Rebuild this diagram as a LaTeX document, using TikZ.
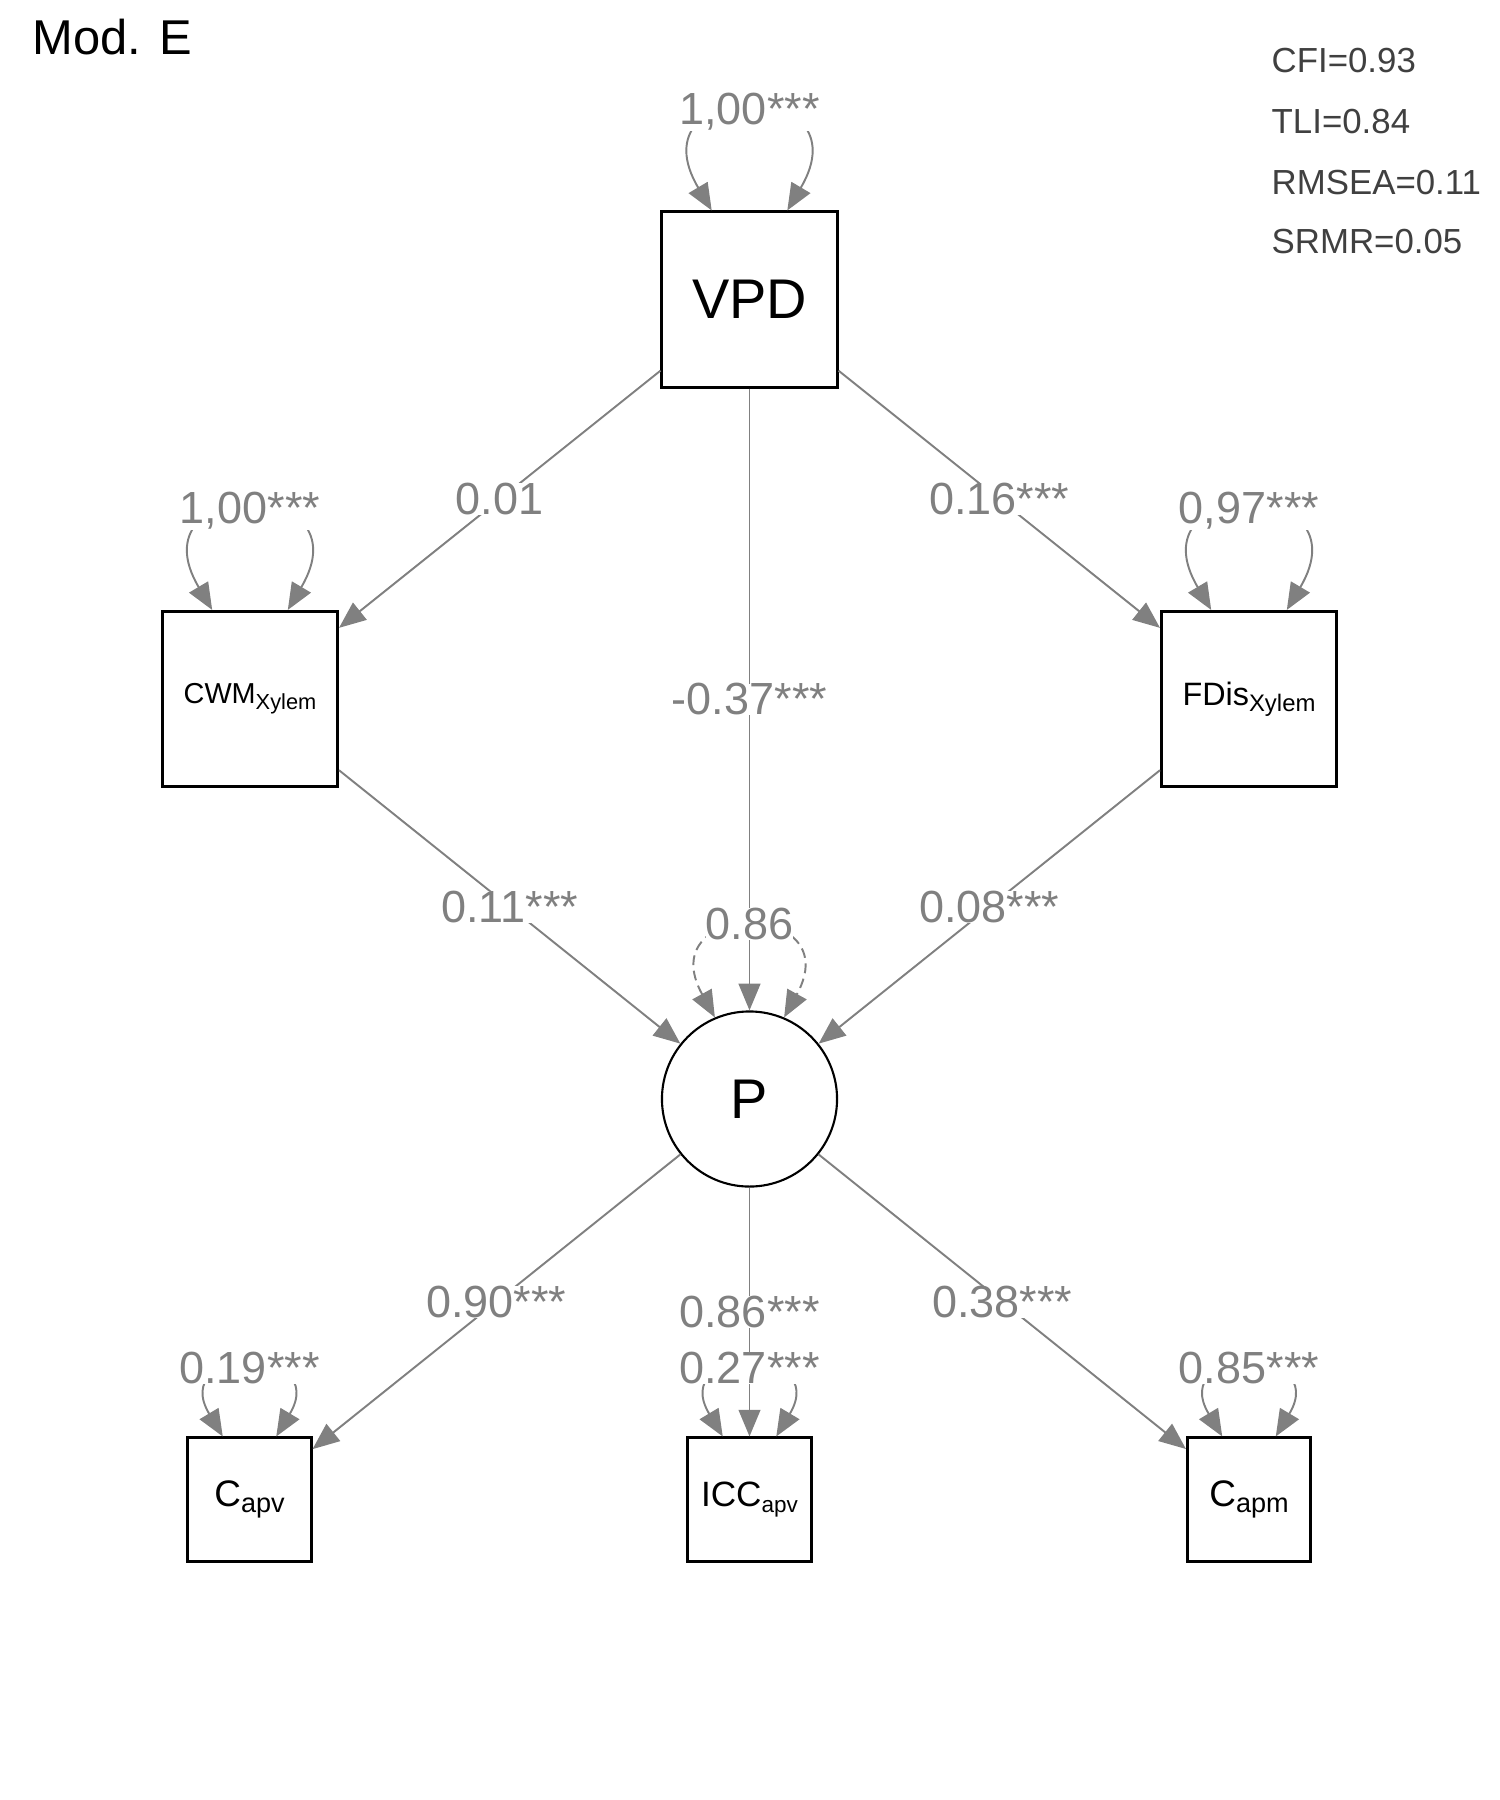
\documentclass[tikz,border=0pt]{standalone}
\usepackage{fontspec}
\setmainfont{Liberation Sans}
\usetikzlibrary{arrows.meta}
\definecolor{fitgray}{RGB}{64,64,64}
\tikzset{
  manifest/.style={draw=black,line width=0.85pt,minimum size=1.75cm,inner sep=0pt},
  small/.style={manifest,minimum size=1.23cm},
  latent/.style={draw=black,circle,line width=0.6pt,minimum size=1.75cm,inner sep=0pt},
  reg/.style={draw=gray,line width=0.55pt,-{Triangle[length=7.6pt,width=6.2pt]}},
  resid/.style={draw=gray,line width=0.55pt,{Triangle[length=7.6pt,width=6.2pt]}-{Triangle[length=7.6pt,width=6.2pt]}},
  est/.style={text=gray,fill=white,inner sep=0pt,font=\fontsize{12.8}{14}\selectfont},
  fit/.style={anchor=base west,text=fitgray,inner sep=0pt,font=\fontsize{9.9}{11}\selectfont}
}
\newcommand{\lowsub}[2]{\raisebox{-1.7pt}{\fontsize{#1}{#1}\selectfont #2}}
\begin{document}
\begin{tikzpicture}[x=0.01cm,y=-0.01cm]
\useasboundingbox (0,0) rectangle (1500,1800);
\node[anchor=base west,inner sep=0pt,font=\fontsize{13.9}{16}\selectfont] (title) at (32,55) {Mod. E};
\node[fit] (cfi) at (1271,73) {CFI=0.93};
\node[fit] (tli) at (1271,134) {TLI=0.84};
\node[fit] (rmsea) at (1271,195) {RMSEA=0.11};
\node[fit] (srmr) at (1271,254) {SRMR=0.05};

% variables
\node[manifest,font=\fontsize{15.9}{18}\selectfont] (VPD) at (749.5,299.5) {VPD};
\node[manifest,font=\fontsize{8.2}{9}\selectfont] (CWM) at (250,699) {CWM\lowsub{6.2}{Xylem}};
\node[manifest,font=\fontsize{9.2}{10}\selectfont] (FDis) at (1249,699) {FDis\lowsub{6.8}{Xylem}};
\node[latent,font=\fontsize{15.9}{18}\selectfont] (P) at (749.5,1099) {P};
\node[small,font=\fontsize{10.5}{12}\selectfont] (Capv) at (249.5,1499.5) {C\lowsub{7.7}{apv}};
\node[small,font=\fontsize{10}{12}\selectfont] (ICC) at (749.5,1499.5) {ICC\lowsub{6.4}{apv}};
\node[small,font=\fontsize{10.5}{12}\selectfont] (Capm) at (1249,1499.5) {C\lowsub{7.7}{apm}};

% paths
\draw[reg] (VPD) -- node[est] {0.01} (CWM);
\draw[reg] (VPD) -- node[est] {0.16***} (FDis);
\draw[reg] (VPD) -- node[est] {-0.37***} (P);
\draw[reg] (CWM) -- node[est] {0.11***} (P);
\draw[reg] (FDis) -- node[est] {0.08***} (P);
\draw[reg] (P) -- node[est] {0.90***} (Capv);
\draw[reg] (P) -- node[est] {0.86***} (ICC);
\draw[reg] (P) -- node[est] {0.38***} (Capm);

% variances
\draw[resid] (VPD.113) .. controls +(-80,-135) and +(80,-135) .. (VPD.67);
\node[est] (vVPD) at (749.5,112) {1,00***};
\draw[resid] (CWM.113) .. controls +(-80,-135) and +(80,-135) .. (CWM.67);
\node[est] (vCWM) at (250,511) {1,00***};
\draw[resid] (FDis.113) .. controls +(-80,-135) and +(80,-135) .. (FDis.67);
\node[est] (vFDis) at (1249,511) {0,97***};
\draw[resid,dash pattern=on 2.8pt off 1.6pt] (P.113) .. controls +(-65,-118) and +(65,-118) .. (P.67);
\node[est] (vP) at (749.5,924) {0.86};
\draw[resid] (Capv.113) .. controls +(-55,-92) and +(55,-92) .. (Capv.67);
\node[est] (vCapv) at (249.5,1368) {0.19***};
\draw[resid] (ICC.113) .. controls +(-55,-92) and +(55,-92) .. (ICC.67);
\node[est] (vICC) at (749.5,1368) {0.27***};
\draw[resid] (Capm.113) .. controls +(-55,-92) and +(55,-92) .. (Capm.67);
\node[est] (vCapm) at (1249,1368) {0.85***};
\end{tikzpicture}
\end{document}
